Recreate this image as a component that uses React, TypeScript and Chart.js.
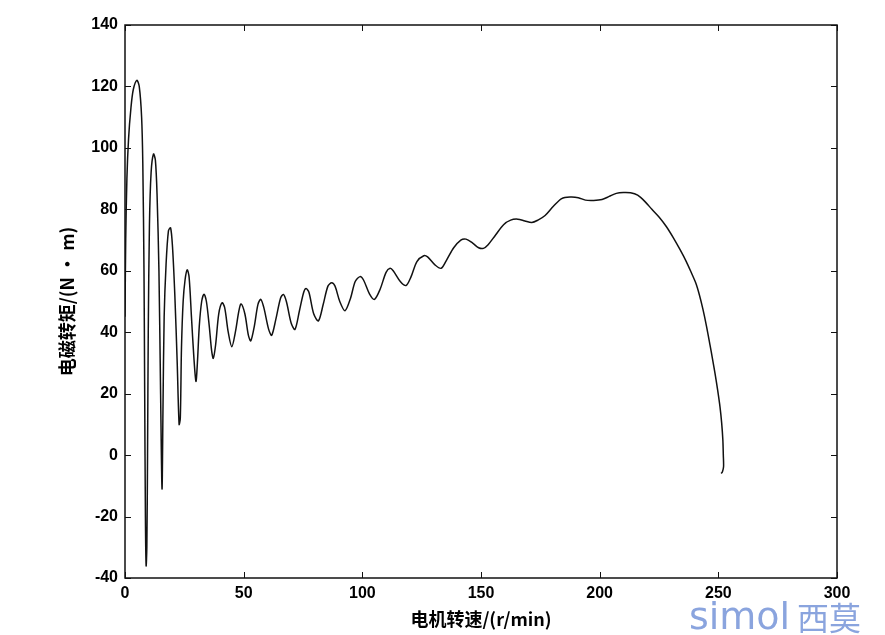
import React, { useEffect, useRef } from "react";
import { Chart, registerables } from "chart.js";

Chart.register(...registerables);

// speed (r/min)
const speed: number[] = [
  0, 0.3, 0.8, 1.5, 2.5, 3.5, 5, 6, 7, 7.5, 8, 8.3, 8.6, 8.9, 9.2, 9.5, 9.8, 10.3, 11, 12, 12.8, 13.5, 14.3, 15, 15.6,
  16, 16.5, 17.3, 18.3, 19.2, 20, 21, 22, 22.8, 23.3, 23.8, 24.5, 25.3, 26.2, 27, 28, 29, 29.9, 30.5, 31.3, 32.3,
  33.3, 34.3, 35.5, 36.5, 37.2, 38.2, 39.5, 40.9, 42, 43.5, 45, 46.5, 48, 48.9, 50.5, 52, 53, 54.5, 56, 57.2, 58.5,
  60.5, 61.8, 63.5, 65.5, 66.7, 68, 70, 71.6, 73.5, 75.3, 76.3, 77.5, 79.5, 81.5, 83.5, 85.5, 87.1, 88.5, 90.5, 92.7,
  95, 97, 99, 100.5, 103, 105.1, 107.5, 110, 111.7, 113, 116, 118.4, 120.5, 123, 125.9, 127.5, 130.5, 133.2, 135.5,
  138.5, 141.5, 143.7, 146.5, 149, 151, 153, 156, 159.5, 162.5, 165.5, 168.5, 171.4, 174, 177, 180.5, 184, 187.5,
  191, 194, 197.5, 201, 204, 207, 210, 213, 216, 219, 222, 225, 228, 231, 234, 236.5, 238.5, 240.5, 242, 243.5, 245,
  246.5, 247.5, 248.6, 249.7, 250.7, 251.4, 251.9, 252.1, 252.2, 251.7, 251.2,
];

// electromagnetic torque (N·m)
const torque: number[] = [
  45, 70, 90, 103, 113, 119, 122, 120, 110, 95, 60, 20, -20, -36, -30, 0, 40, 75, 92, 98, 96, 85, 60, 20, -11,
  15, 45, 62, 73, 74, 68, 52, 30, 10, 12, 35, 50, 57, 60.3, 58, 45, 32, 24, 30, 42, 50,
  52.4, 50, 42, 34, 31.5, 36, 46, 49.6, 48, 40, 35.3, 40, 47, 49.2, 46, 39, 37.2, 42, 49, 50.7, 48,
  41, 39, 44, 51, 52.3, 50, 43, 40.9, 47, 53, 54.2, 53, 46, 43.7, 49, 55, 56.1, 55, 50, 47,
  51, 56.5, 58.1, 57, 52.5, 50.7, 54, 59.5, 60.8, 60, 56.5, 55.2, 58, 63, 64.9, 64.5, 62, 60.8, 63.5,
  67.5, 70, 70.3, 69, 67.5, 67.3, 68.5, 71.5, 75, 76.5, 76.8, 76.2, 75.7, 76.5, 78, 81, 83.5, 84,
  83.8, 83, 82.9, 83.2, 84.2, 85.2, 85.5, 85.4, 84.6, 82.6, 80, 77.5, 74.5, 70.8, 66.7, 63, 59.6, 56, 52.2, 47.5, 42,
  35.8, 31.5, 26.6, 21.2, 15.7, 10.5, 5, 0, -3.8, -5.5, -6,
];

const xTicks: number[] = [0, 50, 100, 150, 200, 250, 300];
const yTicks: number[] = [-40, -20, 0, 20, 40, 60, 80, 100, 120, 140];

const xTitle = "电机转速/(r/min)";
const yTitle = "电磁转矩/(N · m)";

const tickFont = { family: '"Liberation Sans", Arial, sans-serif', size: 16, weight: "bold" as const };
const titleFont = { family: '"Noto Sans CJK SC", "Liberation Sans", sans-serif', size: 18, weight: "bold" as const };

const boxPlugin = {
  id: "matlabBox",
  afterDraw(chart: any) {
    const { ctx, chartArea } = chart;
    const { left, right, top, bottom } = chartArea;
    const xs = chart.scales.x;
    const ys = chart.scales.y;
    ctx.save();
    ctx.strokeStyle = "#111";
    ctx.lineWidth = 1.5;
    ctx.strokeRect(left, top, right - left, bottom - top);
    ctx.lineWidth = 1;
    const L = 6;
    ctx.beginPath();
    xTicks.forEach((v) => {
      const px = Math.round(xs.getPixelForValue(v)) + 0.5;
      ctx.moveTo(px, bottom);
      ctx.lineTo(px, bottom - L);
      ctx.moveTo(px, top);
      ctx.lineTo(px, top + L);
    });
    yTicks.forEach((v) => {
      const py = Math.round(ys.getPixelForValue(v)) + 0.5;
      ctx.moveTo(left, py);
      ctx.lineTo(left + L, py);
      ctx.moveTo(right, py);
      ctx.lineTo(right - L, py);
    });
    ctx.stroke();
    // watermark
    ctx.fillStyle = "#8aa4de";
    ctx.textBaseline = "alphabetic";
    ctx.textAlign = "left";
    ctx.font = '38px "DejaVu Sans", sans-serif';
    ctx.fillText("simol", 689, 629);
    ctx.font = '32px "Noto Sans CJK SC", sans-serif';
    ctx.fillText("西莫", 797, 630);
    ctx.restore();
  },
};

export default function App() {
  const ref = useRef<HTMLCanvasElement | null>(null);
  useEffect(() => {
    document.body.style.margin = "0";
    const canvas = ref.current;
    if (!canvas) return;
    const data = speed.map((s, i) => ({ x: s, y: torque[i] }));
    const chart = new Chart(canvas, {
      type: "scatter",
      data: {
        datasets: [
          {
            data,
            showLine: true,
            borderColor: "#111",
            borderWidth: 1.5,
            pointRadius: 0,
            tension: 0.3,
            fill: false,
          },
        ],
      },
      options: {
        animation: false,
        responsive: false,
        maintainAspectRatio: false,
        layout: { padding: { left: 0, top: 25, right: 48, bottom: 0 } },
        plugins: { legend: { display: false }, tooltip: { enabled: false } },
        scales: {
          x: {
            type: "linear",
            min: 0,
            max: 300,
            afterBuildTicks: (s: any) => {
              s.ticks = xTicks.map((v) => ({ value: v }));
            },
            afterFit: (s: any) => {
              s.height = 57;
            },
            grid: { display: false, drawTicks: false },
            border: { display: false },
            ticks: { color: "#000", font: tickFont, padding: 6, maxRotation: 0 },
            title: { display: true, text: xTitle, color: "#000", font: titleFont, padding: { top: 0, bottom: 5 } },
          },
          y: {
            type: "linear",
            min: -40,
            max: 140,
            afterBuildTicks: (s: any) => {
              s.ticks = yTicks.map((v) => ({ value: v }));
            },
            afterFit: (s: any) => {
              s.width = 125;
            },
            grid: { display: false, drawTicks: false },
            border: { display: false },
            ticks: { color: "#000", font: tickFont, padding: 7 },
            title: { display: true, text: yTitle, color: "#000", font: titleFont, padding: { top: 56, bottom: 0 } },
          },
        },
      },
      plugins: [boxPlugin],
    });
    return () => chart.destroy();
  }, []);
  return <canvas ref={ref} width={885} height={635} style={{ display: "block" }} />;
}
